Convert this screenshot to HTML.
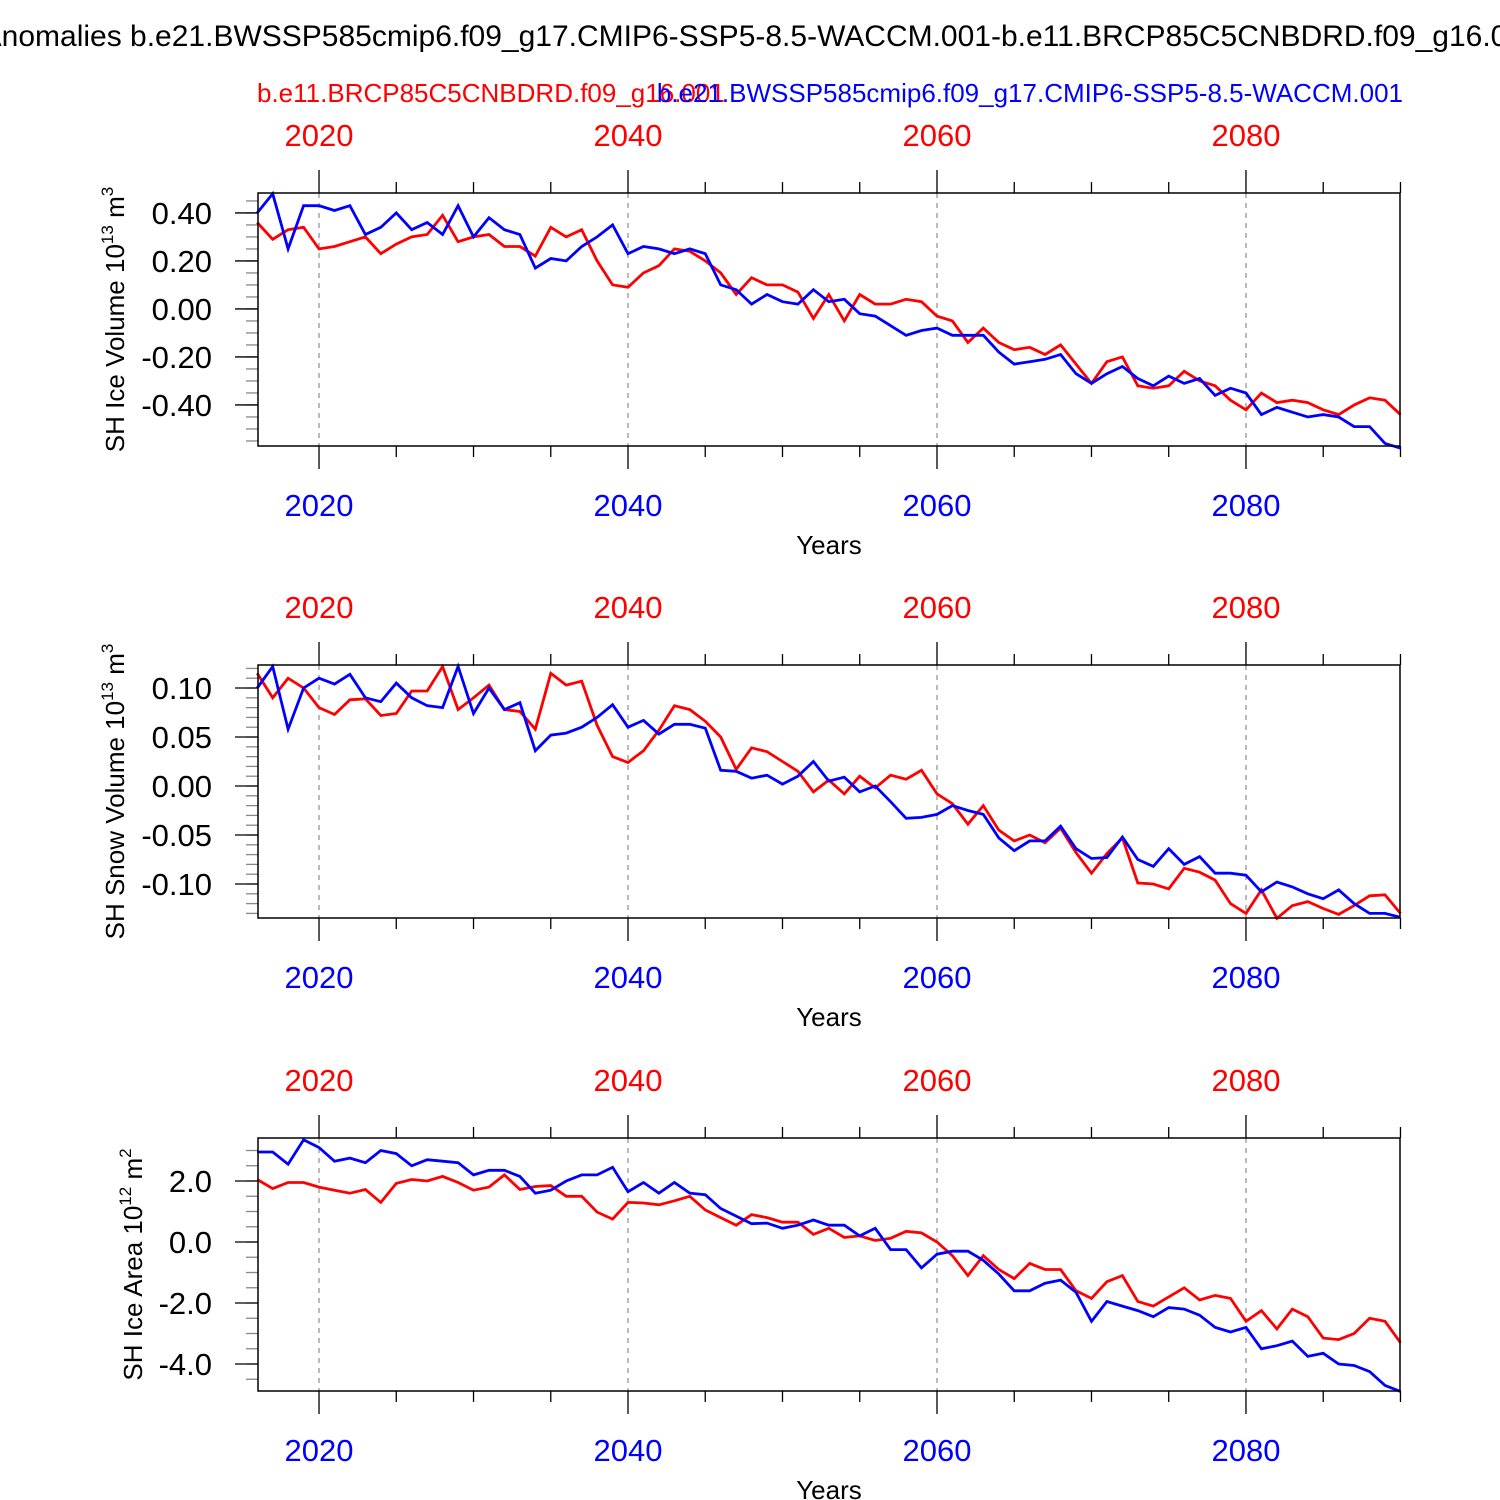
<!DOCTYPE html>
<html><head><meta charset="utf-8"><style>
html,body{margin:0;padding:0;background:#fff}
svg{display:block;font-family:"Liberation Sans",Helvetica,Arial,sans-serif}
</style></head><body>
<svg id="chart" width="1500" height="1500" viewBox="0 0 1500 1500" xmlns="http://www.w3.org/2000/svg">
<text x="737" y="46" font-size="30" text-anchor="middle">SH Anomalies b.e21.BWSSP585cmip6.f09_g17.CMIP6-SSP5-8.5-WACCM.001-b.e11.BRCP85C5CNBDRD.f09_g16.001</text>
<text x="257" y="102" font-size="26" fill="#ff0000">b.e11.BRCP85C5CNBDRD.f09_g16.001</text>
<text x="1403" y="102" font-size="26" fill="#0000ff" text-anchor="end">b.e21.BWSSP585cmip6.f09_g17.CMIP6-SSP5-8.5-WACCM.001</text>
</svg>
<script>
const years = [];
for (let y = 2016; y <= 2090; y++) years.push(y);
const iceVolRed = [.36,.29,.33,.34,.25,.26,.28,.30,.23,.27,.30,.31,.39,.28,.30,.31,.26,.26,.22,.34,.30,.33,.20,.10,.09,.15,.18,.25,.24,.20,.15,.06,.13,.10,.10,.07,-.04,.06,-.05,.06,.02,.02,.04,.03,-.03,-.05,-.14,-.08,-.14,-.17,-.16,-.19,-.15,-.23,-.31,-.22,-.20,-.32,-.33,-.32,-.26,-.30,-.32,-.38,-.42,-.35,-.39,-.38,-.39,-.42,-.44,-.40,-.37,-.38,-.44];
const iceVolBlue = [.40,.48,.25,.43,.43,.41,.43,.31,.34,.40,.33,.36,.31,.43,.30,.38,.33,.31,.17,.21,.20,.26,.30,.35,.23,.26,.25,.23,.25,.23,.10,.08,.02,.06,.03,.02,.08,.03,.04,-.02,-.03,-.07,-.11,-.09,-.08,-.11,-.11,-.11,-.18,-.23,-.22,-.21,-.19,-.27,-.31,-.27,-.24,-.29,-.32,-.28,-.31,-.29,-.36,-.33,-.35,-.44,-.41,-.43,-.45,-.44,-.45,-.49,-.49,-.56,-.58];
const snowVolRed = [.115,.09,.11,.10,.08,.073,.088,.089,.072,.074,.097,.097,.122,.078,.09,.103,.078,.076,.058,.115,.103,.107,.062,.03,.024,.036,.057,.082,.078,.066,.05,.017,.039,.035,.025,.015,-.006,.006,-.008,.01,-.002,.011,.007,.016,-.008,-.018,-.039,-.02,-.045,-.056,-.05,-.058,-.043,-.068,-.089,-.069,-.053,-.099,-.10,-.105,-.084,-.088,-.096,-.12,-.13,-.106,-.135,-.122,-.118,-.125,-.131,-.122,-.112,-.111,-.13];
const snowVolBlue = [.10,.122,.058,.10,.11,.104,.114,.09,.086,.105,.09,.082,.08,.122,.074,.10,.078,.085,.036,.052,.054,.06,.07,.083,.06,.067,.053,.063,.063,.059,.016,.015,.008,.011,.002,.01,.025,.005,.009,-.006,.0,-.016,-.033,-.032,-.029,-.02,-.025,-.029,-.053,-.066,-.056,-.056,-.041,-.064,-.074,-.073,-.052,-.075,-.082,-.064,-.08,-.072,-.089,-.089,-.091,-.108,-.098,-.103,-.11,-.115,-.106,-.12,-.13,-.13,-.134];
const iceAreaRed = [2.05,1.75,1.95,1.95,1.8,1.7,1.6,1.72,1.3,1.92,2.05,2.0,2.15,1.95,1.7,1.8,2.2,1.72,1.82,1.85,1.5,1.5,.98,.75,1.3,1.28,1.22,1.35,1.5,1.05,.8,.55,.9,.8,.65,.65,.25,.45,.15,.2,.05,.12,.35,.3,0,-.45,-1.1,-.45,-.9,-1.2,-.7,-.9,-.9,-1.6,-1.85,-1.3,-1.1,-1.95,-2.1,-1.8,-1.5,-1.9,-1.75,-1.85,-2.6,-2.25,-2.85,-2.2,-2.45,-3.15,-3.2,-3.0,-2.5,-2.6,-3.3];
const iceAreaBlue = [2.95,2.95,2.55,3.35,3.1,2.65,2.75,2.6,3.0,2.9,2.5,2.7,2.65,2.6,2.2,2.35,2.35,2.15,1.6,1.7,2.0,2.2,2.2,2.45,1.65,1.95,1.6,1.95,1.6,1.55,1.1,.85,.6,.62,.45,.55,.72,.55,.55,.2,.45,-.25,-.25,-.85,-.4,-.3,-.3,-.6,-1.05,-1.6,-1.6,-1.35,-1.25,-1.65,-2.6,-1.95,-2.1,-2.25,-2.45,-2.15,-2.2,-2.4,-2.8,-2.95,-2.8,-3.5,-3.4,-3.25,-3.75,-3.65,-4.0,-4.05,-4.25,-4.7,-4.9];
const yearTicks = [2020, 2040, 2060, 2080];
const iceVolTicks = [0.4, 0.2, 0, -0.2, -0.4];
const iceVolLabels = ["0.40","0.20","0.00","-0.20","-0.40"];
const snowVolTicks = [0.1, 0.05, 0, -0.05, -0.1];
const snowVolLabels = ["0.10","0.05","0.00","-0.05","-0.10"];
const iceAreaTicks = [2, 0, -2, -4];
const iceAreaLabels = ["2.0","0.0","-2.0","-4.0"];

const NS = "http://www.w3.org/2000/svg";
const svg = document.getElementById('chart');
const X0 = 258, X1 = 1400, YR0 = 2016.05, YR1 = 2089.97;
const xs = y => X0 + (y - YR0) / (YR1 - YR0) * (X1 - X0);
function mk(tag, attrs, parent) {
  const e = document.createElementNS(NS, tag);
  for (const k in attrs) e.setAttribute(k, attrs[k]);
  (parent || svg).appendChild(e);
  return e;
}
const panels = [
  {name:'ice-volume', top:193, vmax:0.483, vmin:-0.571, ticks:iceVolTicks, labels:iceVolLabels, minor:0.05, red:iceVolRed, blue:iceVolBlue, ylab:['SH Ice Volume 10','13',' m','3'], ylx:124},
  {name:'snow-volume', top:665, vmax:0.1235, vmin:-0.1347, ticks:snowVolTicks, labels:snowVolLabels, minor:0.01, red:snowVolRed, blue:snowVolBlue, ylab:['SH Snow Volume 10','13',' m','3'], ylx:124},
  {name:'ice-area', top:1138, vmax:3.41, vmin:-4.885, ticks:iceAreaTicks, labels:iceAreaLabels, minor:0.5, red:iceAreaRed, blue:iceAreaBlue, ylab:['SH Ice Area 10','12',' m','2'], ylx:142}
];
panels.forEach(p => {
  const g = mk('g', {});
  
  
  const top = p.top, bot = top + 253;
  const ys = v => top + (p.vmax - v) / (p.vmax - p.vmin) * (bot - top);
  yearTicks.forEach(t => {
    const l = mk('line', {x1:xs(t), x2:xs(t), y1:top, y2:bot, stroke:'#777', 'stroke-width':1, 'stroke-dasharray':'5,5'}, g);
    
    
  });
  for (let yr = 2020; yr <= 2090; yr += 5) {
    const major = (yr % 20 === 0);
    const len = major ? 23 : 11;
    mk('line', {x1:xs(yr), x2:xs(yr), y1:top, y2:top - len, stroke:'#000', 'stroke-width':1.3}, g);
    mk('line', {x1:xs(yr), x2:xs(yr), y1:bot, y2:bot + len, stroke:'#000', 'stroke-width':1.3}, g);
  }
  yearTicks.forEach(t => {
    const a = mk('text', {x:xs(t), y:top - 47, 'font-size':31, fill:'#ff0000', 'text-anchor':'middle'}, g);
    a.textContent = t;
    
    
    const b = mk('text', {x:xs(t), y:bot + 70, 'font-size':31, fill:'#0000ff', 'text-anchor':'middle'}, g);
    b.textContent = t;
    
    
  });
  const xt = mk('text', {x:829, y:bot + 108, 'font-size':26, 'text-anchor':'middle'}, g);
  xt.textContent = 'Years';
  
  
  const n0 = Math.ceil(p.vmin / p.minor - 1e-6), n1 = Math.floor(p.vmax / p.minor + 1e-6);
  for (let i = n0; i <= n1; i++) {
    const v = i * p.minor;
    mk('line', {x1:X0, x2:X0 - 12, y1:ys(v), y2:ys(v), stroke:'#888', 'stroke-width':1.3}, g);
  }
  p.ticks.forEach((t, i) => {
    mk('line', {x1:X0, x2:X0 - 23, y1:ys(t), y2:ys(t), stroke:'#000', 'stroke-width':1.3}, g);
    const tl = mk('text', {x:212, y:ys(t) + 11, 'font-size':31, 'text-anchor':'end'}, g);
    tl.textContent = p.labels[i];
    
    
  });
  const yt = mk('text', {transform:`translate(${p.ylx},${(top+bot)/2}) rotate(-90)`, 'font-size':26, 'text-anchor':'middle'}, g);
  
  
  const s1 = mk('tspan', {}, yt); s1.textContent = p.ylab[0];
  const s2 = mk('tspan', {dy:-11, 'font-size':17}, yt); s2.textContent = p.ylab[1];
  const s3 = mk('tspan', {dy:11}, yt); s3.textContent = p.ylab[2];
  const s4 = mk('tspan', {dy:-11, 'font-size':17}, yt); s4.textContent = p.ylab[3];
  [['red', p.red, '#ff0000'], ['blue', p.blue, '#0000ff']].forEach(([nm, arr, col]) => {
    const pts = arr.map((v, i) => xs(years[i]).toFixed(1) + ',' + ys(v).toFixed(1)).join(' ');
    const pl = mk('polyline', {points:pts, fill:'none', stroke:col, 'stroke-width':2.8, 'stroke-linejoin':'miter'}, g);
    
    
  });
  const fr = mk('rect', {x:X0, y:top, width:X1 - X0, height:bot - top, fill:'none', stroke:'#000', 'stroke-width':1.5}, g);
  
  
});
</script>
</body></html>
